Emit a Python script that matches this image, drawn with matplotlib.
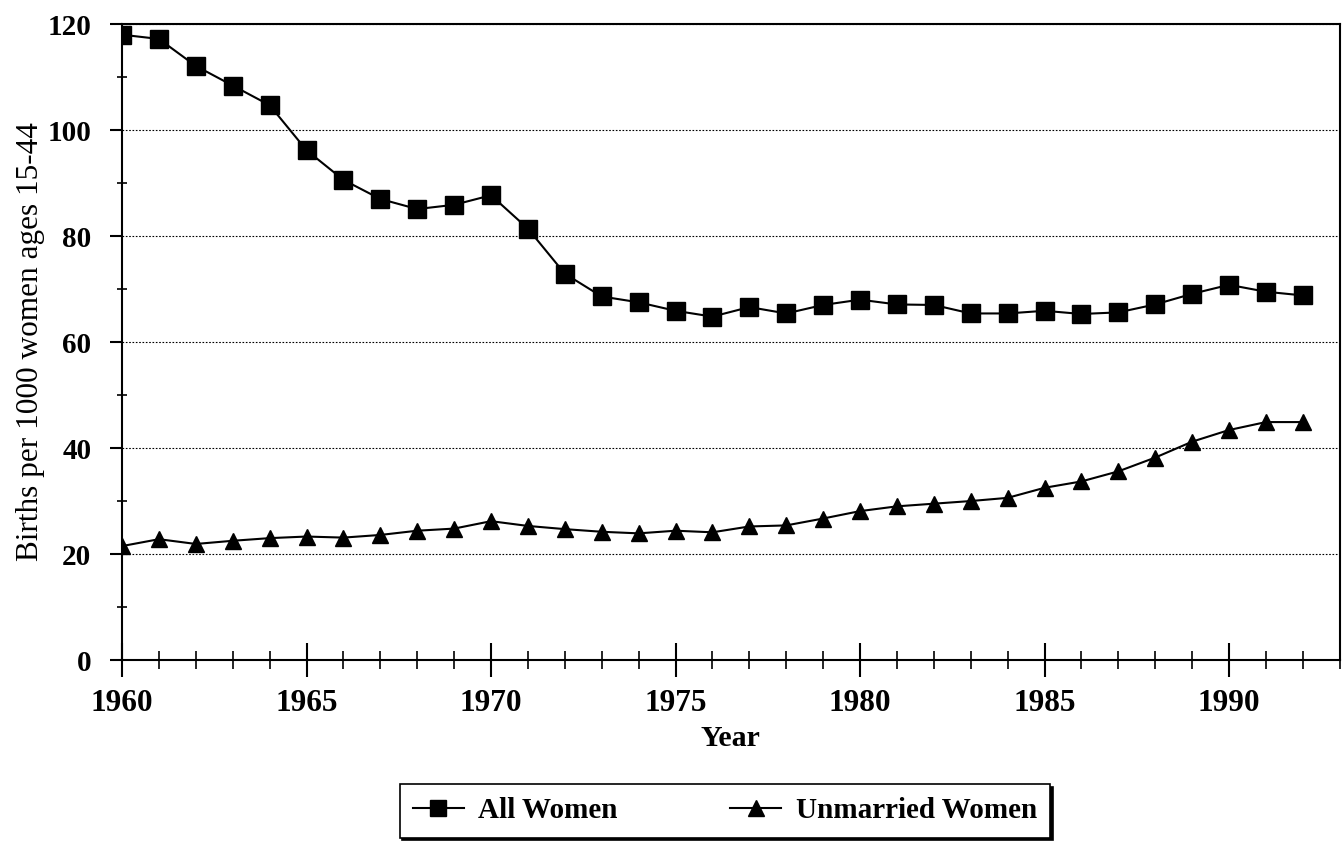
import matplotlib.pyplot as plt
from matplotlib.ticker import MultipleLocator

years = list(range(1960, 1993))
all_women = [118.0, 117.2, 112.1, 108.4, 104.7, 96.2, 90.6, 87.0, 85.1, 85.9,
             87.7, 81.4, 72.9, 68.6, 67.5, 65.9, 64.8, 66.6, 65.4, 67.0,
             68.0, 67.1, 67.0, 65.4, 65.4, 65.9, 65.3, 65.6, 67.1, 69.1,
             70.8, 69.5, 68.8]
unmarried_women = [21.5, 22.8, 21.9, 22.5, 23.0, 23.3, 23.1, 23.6, 24.4, 24.8,
                   26.2, 25.3, 24.7, 24.2, 23.9, 24.4, 24.1, 25.2, 25.4, 26.7,
                   28.1, 29.0, 29.5, 30.0, 30.6, 32.5, 33.7, 35.6, 38.2, 41.2,
                   43.4, 44.9, 44.9]

plt.rcParams["font.family"] = ["Liberation Serif", "DejaVu Serif"]

fig = plt.figure(figsize=(13.44, 8.49), dpi=100)
ax = fig.add_axes([0.0908, 0.2226, 0.906, 0.749])

ax.plot(years, all_women, color="black", lw=1.5, marker="s", markersize=13,
        label="All Women")
ax.plot(years, unmarried_women, color="black", lw=1.5, marker="^", markersize=11.5,
        label="Unmarried Women")

ax.set_xlim(1960, 1993)
ax.set_ylim(0, 120)

ax.yaxis.set_major_locator(MultipleLocator(20))
ax.yaxis.set_minor_locator(MultipleLocator(10))
ax.xaxis.set_major_locator(MultipleLocator(5))
ax.xaxis.set_minor_locator(MultipleLocator(1))

ax.tick_params(axis="y", which="major", direction="out", length=9, width=1.5,
               labelsize=21, pad=13)
ax.tick_params(axis="y", which="minor", direction="inout", length=7, width=1.2)
ax.tick_params(axis="x", which="major", direction="inout", length=25, width=1.5,
               labelsize=22.5, pad=8.5)
ax.tick_params(axis="x", which="minor", direction="inout", length=13, width=1.2)

for label in ax.get_xticklabels() + ax.get_yticklabels():
    label.set_fontweight("bold")

for s in ax.spines.values():
    s.set_linewidth(1.5)

ax.grid(axis="y", which="major", linestyle=(0, (1.5, 1.5)), color="black", lw=0.8)

ax.set_xlabel("Year", fontsize=21.5, fontweight="bold", labelpad=5)
ax.set_ylabel("Births per 1000 women ages 15-44", fontsize=22.5, labelpad=2)

leg = fig.legend(loc="center", bbox_to_anchor=(0.5394, 0.0448), ncol=2,
                 fontsize=21, frameon=True, fancybox=False, handlelength=1.75,
                 handletextpad=0.5, columnspacing=3.85, borderpad=0.45,
                 borderaxespad=0,
                 shadow={"color": "black", "alpha": 1})
leg.get_frame().set_edgecolor("black")
leg.get_frame().set_linewidth(1.2)
for t in leg.get_texts():
    t.set_fontweight("bold")
for h in leg.legend_handles:
    h.set_markersize(11)

fig.savefig("out.png", dpi=100)
